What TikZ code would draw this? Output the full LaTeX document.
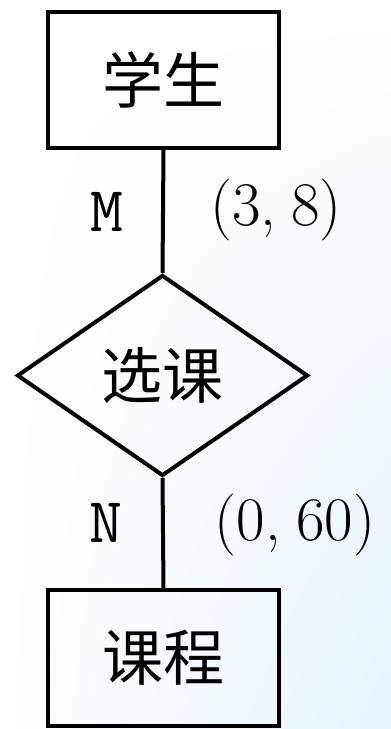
\documentclass[tikz,border=0pt]{standalone}
\usepackage{fontspec}
\usepackage{tikz}
\usetikzlibrary{shapes.geometric,shadings}
\newfontfamily\cjk{Noto Sans CJK SC}
\definecolor{ink}{HTML}{000000}
\definecolor{sky}{HTML}{E6F3FC}
\begin{document}
\begin{tikzpicture}[x=1pt,y=1pt,
  entity/.style={draw=ink,line width=4pt,minimum width=231pt,minimum height=136pt,
    inner sep=0pt,font=\cjk\fontsize{61}{66}\selectfont},
  relation/.style={diamond,draw=ink,line width=4pt,minimum width=291pt,minimum height=201pt,
    inner sep=0pt,font=\cjk\fontsize{61}{66}\selectfont},
  card/.style={font=\ttfamily\fontsize{64}{68}\selectfont},
  pair/.style={font=\fontsize{62}{66}\selectfont},
  link/.style={draw=ink,line width=4pt}]
  \useasboundingbox (0,0) rectangle (391,729);
  \shade[upper left=white,upper right=white,lower left=white,lower right=sky]
    (0,0) rectangle (391,729);
  \node[entity] (stud) at (163.5,649) {学生};
  \node[relation] (sel) at (162.5,353.5) {选课};
  \node[entity] (course) at (163.5,71) {课程};
  \draw[link] (stud.south) -- (sel.north);
  \draw[link] (sel.south) -- (course.north);
  \node[card] (m) at (107,517) {M};
  \node[pair] (mp) at (276,519) {(3,\hspace{0.25em}8)};
  \node[card] (n) at (106,206) {N};
  \node[pair] (np) at (295,204) {(0,\hspace{0.25em}60)};
\end{tikzpicture}
\end{document}
